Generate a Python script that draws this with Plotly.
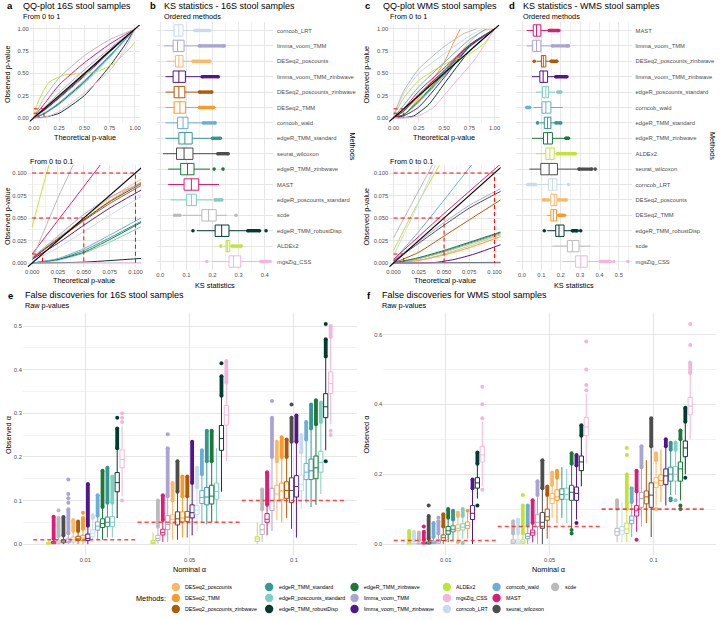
import plotly.graph_objects as go

W, H = 720, 620
FONT = "Liberation Sans, Arial, sans-serif"
TICK = "#4D4D4D"
GRID = "#E6E6E6"
GRID_MINOR = "#F2F2F2"

# ---------------- methods & colours ----------------
methods = ["DESeq2_poscounts", "DESeq2_TMM", "DESeq2_poscounts_zinbwave",
           "edgeR_TMM_standard", "edgeR_poscounts_standard", "edgeR_TMM_robustDisp",
           "edgeR_TMM_zinbwave", "limma_voom_TMM", "limma_voom_TMM_zinbwave",
           "ALDEx2", "mgsZig_CSS", "corncob_LRT",
           "corncob_wald", "MAST", "seurat_wilcoxon", "scde"]
method_colors = ["#FDB863", "#FB9A29", "#B35806",
                 "#35978F", "#80CDC1", "#003C30",
                 "#1B7837", "#A9A4D2", "#50168A",
                 "#C2E33A", "#F1B6DA", "#C6DBEF",
                 "#6BAED6", "#DD1C77", "#4D4D4D", "#BABABA"]
COL = dict(zip(methods, method_colors))

alphas = [0.01, 0.05, 0.1]
alpha_labels = ["0.01", "0.05", "0.1"]

# ---------------- QQ curves (x list, y list) ----------------
X6 = [0, 0.1, 0.25, 0.5, 0.75, 1]
qq16_full = {
    "DESeq2_poscounts": (X6, [0.005, 0.09, 0.24, 0.5, 0.76, 1]),
    "DESeq2_TMM": (X6, [0.005, 0.088, 0.235, 0.49, 0.755, 1]),
    "DESeq2_poscounts_zinbwave": (X6, [0.005, 0.085, 0.23, 0.485, 0.75, 1]),
    "edgeR_TMM_standard": (X6, [0, 0.045, 0.16, 0.4, 0.69, 1]),
    "edgeR_poscounts_standard": (X6, [0, 0.04, 0.15, 0.39, 0.68, 1]),
    "edgeR_TMM_robustDisp": ([0, 0.1, 0.25, 0.5, 0.75, 0.9, 1], [0, 0.005, 0.05, 0.25, 0.58, 0.82, 1]),
    "edgeR_TMM_zinbwave": (X6, [0, 0.045, 0.16, 0.41, 0.7, 1]),
    "limma_voom_TMM": (X6, [0.005, 0.11, 0.28, 0.54, 0.78, 1]),
    "limma_voom_TMM_zinbwave": (X6, [0.004, 0.08, 0.22, 0.47, 0.74, 1]),
    "ALDEx2": ([0, 0.05, 0.15, 0.3, 0.5, 0.65, 0.8, 0.92, 1], [0.04, 0.2, 0.4, 0.48, 0.5, 0.53, 0.62, 0.75, 0.85]),
    "mgsZig_CSS": ([0, 0.1, 0.25, 0.5, 0.75, 0.9, 1], [0, 0.001, 0.07, 0.28, 0.53, 0.77, 1]),
    "corncob_LRT": (X6, [0.002, 0.07, 0.21, 0.46, 0.73, 1]),
    "corncob_wald": (X6, [0, 0.05, 0.17, 0.42, 0.7, 1]),
    "MAST": (X6, [0.01, 0.15, 0.37, 0.62, 0.83, 1]),
    "seurat_wilcoxon": (X6, [0.005, 0.087, 0.23, 0.49, 0.76, 1]),
    "scde": (X6, [0.004, 0.22, 0.45, 0.7, 0.88, 1]),
}
X5 = [0, 0.025, 0.05, 0.075, 0.11]
qq16_zoom = {
    "DESeq2_poscounts": (X5, [0.006, 0.028, 0.05, 0.072, 0.096]),
    "DESeq2_TMM": (X5, [0.005, 0.026, 0.048, 0.069, 0.093]),
    "DESeq2_poscounts_zinbwave": (X5, [0.005, 0.026, 0.047, 0.066, 0.089]),
    "edgeR_TMM_standard": (X5, [0, 0.004, 0.014, 0.028, 0.049]),
    "edgeR_poscounts_standard": (X5, [0, 0.003, 0.011, 0.023, 0.043]),
    "edgeR_TMM_robustDisp": ([0, 0.05, 0.11], [0, 0.001, 0.0055]),
    "edgeR_TMM_zinbwave": (X5, [0, 0.004, 0.012, 0.026, 0.048]),
    "limma_voom_TMM": (X5, [0.006, 0.03, 0.054, 0.073, 0.091]),
    "limma_voom_TMM_zinbwave": (X5, [0.004, 0.022, 0.042, 0.061, 0.084]),
    "ALDEx2": ([0, 0.008, 0.017], [0.04, 0.075, 0.112]),
    "mgsZig_CSS": ([0, 0.11], [0, 0.0005]),
    "corncob_LRT": (X5, [0.002, 0.017, 0.035, 0.053, 0.077]),
    "corncob_wald": (X5, [0, 0.005, 0.016, 0.031, 0.053]),
    "MAST": ([0, 0.02, 0.04, 0.068], [0.01, 0.04, 0.07, 0.112]),
    "seurat_wilcoxon": (X5, [0.005, 0.027, 0.048, 0.068, 0.091]),
    "scde": ([0, 0.013, 0.026, 0.041], [0.004, 0.04, 0.075, 0.112]),
}
qqwms_full = {
    "DESeq2_poscounts": ([0, 0.1, 0.25, 0.5, 0.75, 0.88, 1], [0, 0.03, 0.2, 0.52, 0.85, 0.98, 1]),
    "DESeq2_TMM": ([0, 0.1, 0.25, 0.4, 0.5, 0.6, 0.66], [0, 0.028, 0.22, 0.45, 0.62, 0.86, 1]),
    "DESeq2_poscounts_zinbwave": (X6, [0, 0.07, 0.24, 0.52, 0.8, 1]),
    "edgeR_TMM_standard": (X6, [0, 0.033, 0.18, 0.48, 0.8, 1]),
    "edgeR_poscounts_standard": (X6, [0, 0.032, 0.17, 0.47, 0.79, 1]),
    "edgeR_TMM_robustDisp": ([0, 0.1, 0.2, 0.35, 0.5, 0.75, 1], [0, 0.0, 0.02, 0.15, 0.38, 0.75, 1]),
    "edgeR_TMM_zinbwave": (X6, [0, 0.034, 0.19, 0.5, 0.81, 1]),
    "limma_voom_TMM": (X6, [0.003, 0.08, 0.27, 0.53, 0.8, 1]),
    "limma_voom_TMM_zinbwave": (X6, [0, 0.02, 0.12, 0.45, 0.8, 1]),
    "ALDEx2": ([0, 0.1, 0.25, 0.5, 0.75, 0.9, 1], [0.013, 0.22, 0.42, 0.6, 0.72, 0.84, 1]),
    "mgsZig_CSS": ([0, 0.15, 0.25, 0.4, 0.5, 0.65, 0.8, 0.9, 1], [0, 0, 0.02, 0.12, 0.25, 0.45, 0.65, 0.82, 1]),
    "corncob_LRT": ([0, 0.1, 0.25, 0.5, 0.75, 0.88], [0.008, 0.27, 0.5, 0.72, 0.92, 1]),
    "corncob_wald": ([0, 0.1, 0.25, 0.5, 0.75, 0.92], [0.003, 0.14, 0.35, 0.62, 0.88, 1]),
    "MAST": (X6, [0.004, 0.1, 0.3, 0.56, 0.82, 1]),
    "seurat_wilcoxon": (X6, [0.002, 0.075, 0.26, 0.53, 0.82, 1]),
    "scde": ([0, 0.1, 0.25, 0.5, 0.7, 0.82], [0.028, 0.3, 0.55, 0.8, 0.95, 1]),
}
qqwms_zoom = {
    "DESeq2_poscounts": (X5, [0, 0.003, 0.01, 0.019, 0.033]),
    "DESeq2_TMM": (X5, [0, 0.003, 0.009, 0.017, 0.031]),
    "DESeq2_poscounts_zinbwave": (X5, [0, 0.012, 0.03, 0.048, 0.073]),
    "edgeR_TMM_standard": (X5, [0, 0.005, 0.013, 0.022, 0.035]),
    "edgeR_poscounts_standard": (X5, [0, 0.005, 0.012, 0.021, 0.034]),
    "edgeR_TMM_robustDisp": ([0, 0.11], [0, 0.0008]),
    "edgeR_TMM_zinbwave": (X5, [0, 0.006, 0.014, 0.023, 0.036]),
    "limma_voom_TMM": (X5, [0.003, 0.024, 0.045, 0.064, 0.085]),
    "limma_voom_TMM_zinbwave": ([0, 0.04, 0.06, 0.08, 0.11], [0, 0.0005, 0.004, 0.01, 0.022]),
    "ALDEx2": ([0, 0.02, 0.046], [0.014, 0.058, 0.11]),
    "mgsZig_CSS": ([0, 0.11], [0, 0.0]),
    "corncob_LRT": ([0, 0.02, 0.042], [0.008, 0.055, 0.11]),
    "corncob_wald": ([0, 0.025, 0.05, 0.078], [0.003, 0.035, 0.07, 0.11]),
    "MAST": ([0, 0.05, 0.106], [0.004, 0.055, 0.11]),
    "seurat_wilcoxon": (X5, [0.002, 0.022, 0.042, 0.061, 0.082]),
    "scde": ([0, 0.02, 0.039], [0.028, 0.07, 0.11]),
}

# ---------------- KS statistics (panel b, 16S) ----------------
ks16_order = ["corncob_LRT", "limma_voom_TMM", "DESeq2_poscounts", "limma_voom_TMM_zinbwave",
              "DESeq2_poscounts_zinbwave", "DESeq2_TMM", "corncob_wald", "edgeR_TMM_standard",
              "seurat_wilcoxon", "edgeR_TMM_zinbwave", "MAST", "edgeR_poscounts_standard",
              "scde", "edgeR_TMM_robustDisp", "ALDEx2", "mgsZig_CSS"]
ks16_lo = [0.02, 0.015, 0.025, 0.02, 0.02, 0.02, 0.02, 0.02, 0.01, 0.03, 0.03, 0.04, 0.085, 0.14, 0.245, 0.2]
ks16_q1 = [0.053, 0.049, 0.058, 0.049, 0.053, 0.053, 0.066, 0.071, 0.062, 0.078, 0.091, 0.1, 0.159, 0.21, 0.252, 0.263]
ks16_med = [0.071, 0.066, 0.071, 0.071, 0.071, 0.075, 0.087, 0.094, 0.091, 0.104, 0.119, 0.119, 0.185, 0.235, 0.258, 0.28]
ks16_q3 = [0.087, 0.091, 0.087, 0.096, 0.094, 0.096, 0.106, 0.122, 0.125, 0.129, 0.147, 0.138, 0.214, 0.263, 0.266, 0.308]
ks16_hi = [0.132, 0.15, 0.125, 0.16, 0.15, 0.15, 0.165, 0.195, 0.22, 0.19, 0.225, 0.2, 0.255, 0.335, 0.275, 0.38]
ks16_out = [[0.132, 0.189], [0.15, 0.245], [0.125, 0.19], [0.16, 0.222], [0.15, 0.197], [0.15, 0.205],
            [0.165, 0.21], [0.2, 0.23], [0.22, 0.26], None, None, [0.21, 0.235], None, [0.335, 0.38],
            [0.275, 0.31], [0.385, 0.41]]
ks16_pts = [[], [], [], [], [], [], [], [], [], [0.206, 0.24], [], [], [0.055, 0.065, 0.075, 0.29],
            [0.125, 0.405], [0.232], [0.178, 0.42]]

# ---------------- KS statistics (panel d, WMS) ----------------
ksw_order = ["MAST", "limma_voom_TMM", "DESeq2_poscounts_zinbwave", "limma_voom_TMM_zinbwave",
             "edgeR_poscounts_standard", "corncob_wald", "edgeR_TMM_standard", "edgeR_TMM_zinbwave",
             "ALDEx2", "seurat_wilcoxon", "corncob_LRT", "DESeq2_poscounts", "DESeq2_TMM",
             "edgeR_TMM_robustDisp", "scde", "mgsZig_CSS"]
ksw_lo = [0.024, 0.024, 0.075, 0.051, 0.072, 0.06, 0.09, 0.051, 0.072, 0.038, 0.08, 0.115, 0.128, 0.13, 0.157, 0.208]
ksw_q1 = [0.058, 0.055, 0.1, 0.092, 0.106, 0.103, 0.115, 0.111, 0.123, 0.097, 0.137, 0.149, 0.149, 0.174, 0.234, 0.277]
ksw_med = [0.075, 0.075, 0.11, 0.109, 0.123, 0.123, 0.132, 0.132, 0.144, 0.14, 0.157, 0.166, 0.162, 0.191, 0.26, 0.303]
ksw_q3 = [0.097, 0.097, 0.123, 0.132, 0.137, 0.149, 0.149, 0.157, 0.166, 0.183, 0.18, 0.18, 0.178, 0.217, 0.294, 0.337]
ksw_hi = [0.14, 0.155, 0.15, 0.17, 0.17, 0.21, 0.17, 0.22, 0.18, 0.294, 0.21, 0.19, 0.19, 0.26, 0.354, 0.4]
ksw_out = [[0.14, 0.19], [0.157, 0.234], [0.15, 0.18], [0.174, 0.232], [0.185, 0.2], [0.025, 0.04],
           [0.175, 0.2], [0.226, 0.24], [0.183, 0.275], [0.294, 0.36], [0.03, 0.07], [0.19, 0.228],
           [0.19, 0.21], [0.26, 0.285], None, [0.405, 0.456]]
ksw_pts = [[], [0.24], [0.063], [], [], [], [0.08], [], [], [0.378], [0.24], [0.11, 0.12, 0.135],
           [0.22], [0.115, 0.303], [], [0.474, 0.547]]

# ---------------- False discoveries, 16S (panel e) ----------------
# stats per box: [lower whisker, q1, median, q3, upper whisker]; order = left-to-right in group
e_order_1 = ["ALDEx2", "MAST", "scde", "seurat_wilcoxon", "limma_voom_TMM", "DESeq2_poscounts",
             "DESeq2_poscounts_zinbwave", "DESeq2_TMM", "limma_voom_TMM_zinbwave", "corncob_LRT",
             "corncob_wald", "edgeR_TMM_zinbwave", "edgeR_TMM_standard", "edgeR_poscounts_standard",
             "edgeR_TMM_robustDisp", "mgsZig_CSS"]
e_stats_1 = [[0, 0, 0.001, 0.004, 0.008], [0, 0.001, 0.003, 0.006, 0.012], [0, 0.002, 0.005, 0.009, 0.018],
             [0, 0.003, 0.007, 0.01, 0.02], [0, 0.003, 0.006, 0.012, 0.025], [0, 0.005, 0.01, 0.016, 0.03],
             [0, 0.008, 0.012, 0.018, 0.03], [0, 0.008, 0.014, 0.02, 0.035], [0, 0.008, 0.013, 0.023, 0.042],
             [0.005, 0.018, 0.025, 0.033, 0.06], [0.01, 0.032, 0.041, 0.051, 0.065],
             [0.01, 0.038, 0.047, 0.058, 0.085], [0.015, 0.04, 0.05, 0.062, 0.095],
             [0.015, 0.04, 0.05, 0.063, 0.095], [0.06, 0.12, 0.141, 0.164, 0.22],
             [0.11, 0.175, 0.194, 0.216, 0.27]]
e_out_1 = [None, [0.012, 0.063], [0.018, 0.06], [0.02, 0.062], [0.025, 0.08], [0.03, 0.055], [0.03, 0.052],
           [0.035, 0.06], [0.042, 0.138], [0.06, 0.066], [0.065, 0.112], [0.085, 0.168], [0.095, 0.175],
           [0.095, 0.155], [0.22, 0.265], None]
e_pts_1 = [[], [], [0.077], [], [0.095, 0.105, 0.115, 0.148], [], [], [0.072], [], [], [], [], [], [],
           [0.29], [0.1, 0.28, 0.29, 0.3]]

e_order_2 = ["ALDEx2", "scde", "MAST", "limma_voom_TMM", "DESeq2_poscounts", "seurat_wilcoxon",
             "DESeq2_TMM", "DESeq2_poscounts_zinbwave", "limma_voom_TMM_zinbwave", "corncob_LRT",
             "corncob_wald", "edgeR_TMM_standard", "edgeR_TMM_zinbwave", "edgeR_poscounts_standard",
             "edgeR_TMM_robustDisp", "mgsZig_CSS"]
e_stats_2 = [[0, 0.001, 0.004, 0.008, 0.027], [0, 0.008, 0.013, 0.02, 0.04], [0.005, 0.021, 0.027, 0.034, 0.055],
             [0.005, 0.033, 0.045, 0.065, 0.11], [0.01, 0.047, 0.057, 0.067, 0.1], [0.01, 0.044, 0.058, 0.074, 0.12],
             [0.015, 0.051, 0.06, 0.074, 0.11], [0.015, 0.052, 0.062, 0.075, 0.11], [0.02, 0.06, 0.072, 0.09, 0.14],
             [0.03, 0.068, 0.078, 0.088, 0.13], [0.05, 0.093, 0.107, 0.123, 0.16], [0.045, 0.09, 0.108, 0.13, 0.19],
             [0.05, 0.092, 0.11, 0.135, 0.19], [0.05, 0.103, 0.121, 0.14, 0.22], [0.12, 0.215, 0.242, 0.272, 0.34],
             [0.19, 0.273, 0.296, 0.318, 0.37]]
e_out_2 = [None, [0.04, 0.1], [0.055, 0.112], [0.11, 0.22], [0.1, 0.14], [0.12, 0.19], [0.11, 0.155],
           [0.11, 0.155], [0.14, 0.235], [0.13, 0.175], [0.16, 0.215], [0.19, 0.26], [0.19, 0.26], None,
           [0.34, 0.385], [0.37, 0.42]]
e_pts_2 = [[], [], [], [0.252], [], [], [], [], [], [], [], [], [], [], [0.415], []]

e_order_3 = ["ALDEx2", "scde", "MAST", "limma_voom_TMM", "DESeq2_poscounts", "DESeq2_TMM",
             "DESeq2_poscounts_zinbwave", "seurat_wilcoxon", "limma_voom_TMM_zinbwave", "corncob_LRT",
             "corncob_wald", "edgeR_TMM_standard", "edgeR_TMM_zinbwave", "edgeR_poscounts_standard",
             "edgeR_TMM_robustDisp", "mgsZig_CSS"]
e_stats_3 = [[0, 0.006, 0.012, 0.017, 0.05], [0.005, 0.022, 0.033, 0.045, 0.08], [0.02, 0.05, 0.057, 0.07, 0.09],
             [0.03, 0.077, 0.1, 0.128, 0.2], [0.055, 0.1, 0.115, 0.135, 0.19], [0.05, 0.102, 0.122, 0.14, 0.2],
             [0.06, 0.105, 0.123, 0.143, 0.2], [0.035, 0.095, 0.123, 0.152, 0.235], [0.015, 0.108, 0.132, 0.157, 0.235],
             [0.08, 0.122, 0.137, 0.158, 0.21], [0.095, 0.148, 0.165, 0.185, 0.24], [0.085, 0.148, 0.168, 0.195, 0.265],
             [0.09, 0.15, 0.175, 0.202, 0.275], [0.115, 0.165, 0.187, 0.213, 0.28], [0.215, 0.29, 0.315, 0.345, 0.43],
             [0.275, 0.345, 0.368, 0.395, 0.47]]
e_out_3 = [None, [0.08, 0.125], [0.09, 0.165], [0.2, 0.29], [0.19, 0.235], [0.2, 0.245], [0.2, 0.24],
           [0.235, 0.29], [0.235, 0.295], [0.21, 0.25], [0.24, 0.28], [0.265, 0.32], [0.275, 0.33],
           [0.28, 0.325], [0.43, 0.47], [0.475, 0.5]]
e_pts_3 = [[], [], [], [0.328], [], [], [], [0.32], [], [], [], [], [], [], [0.19, 0.505], [0.25, 0.26]]

# ---------------- False discoveries, WMS (panel f) ----------------
f_order_1 = ["ALDEx2", "corncob_LRT", "scde", "MAST", "seurat_wilcoxon", "corncob_wald", "limma_voom_TMM",
             "DESeq2_poscounts_zinbwave", "edgeR_TMM_zinbwave", "edgeR_TMM_standard", "DESeq2_poscounts",
             "edgeR_poscounts_standard", "DESeq2_TMM", "limma_voom_TMM_zinbwave", "edgeR_TMM_robustDisp",
             "mgsZig_CSS"]
f_stats_1 = [[0, 0, 0.001, 0.004, 0.01], [0, 0, 0.001, 0.003, 0.01], [0, 0, 0.001, 0.003, 0.01],
             [0, 0, 0.002, 0.005, 0.012], [0, 0, 0.002, 0.006, 0.015], [0, 0.001, 0.004, 0.008, 0.02],
             [0, 0.002, 0.006, 0.012, 0.03], [0, 0.01, 0.018, 0.026, 0.05], [0.005, 0.028, 0.038, 0.05, 0.075],
             [0.01, 0.035, 0.042, 0.052, 0.07], [0.01, 0.038, 0.045, 0.055, 0.08], [0.015, 0.04, 0.048, 0.058, 0.08],
             [0.015, 0.045, 0.053, 0.063, 0.09], [0, 0.07, 0.088, 0.11, 0.16], [0.13, 0.16, 0.175, 0.19, 0.23],
             [0.165, 0.235, 0.255, 0.28, 0.35]]
f_out_1 = [[0.01, 0.037], [0.01, 0.035], [0.01, 0.033], [0.012, 0.035], [0.015, 0.08], [0.02, 0.06],
           [0.03, 0.065], [0.05, 0.085], [0.075, 0.1], [0.07, 0.095], [0.08, 0.09], [0.08, 0.1], None,
           [0.16, 0.185], [0.23, 0.262], None]
f_pts_1 = [[], [], [], [0.05], [0.11], [], [0.075], [], [], [], [0.005], [0.003], [0.095], [], [0.11],
           [0.155, 0.36, 0.4, 0.45]]

f_order_2 = ["scde", "corncob_LRT", "ALDEx2", "corncob_wald", "MAST", "limma_voom_TMM", "seurat_wilcoxon",
             "DESeq2_poscounts_zinbwave", "DESeq2_poscounts", "DESeq2_TMM", "edgeR_TMM_standard",
             "edgeR_poscounts_standard", "edgeR_TMM_zinbwave", "limma_voom_TMM_zinbwave",
             "edgeR_TMM_robustDisp", "mgsZig_CSS"]
f_stats_2 = [[0, 0.002, 0.006, 0.012, 0.03], [0, 0.002, 0.006, 0.012, 0.03], [0, 0.002, 0.006, 0.012, 0.03],
             [0, 0.015, 0.022, 0.03, 0.055], [0.005, 0.025, 0.032, 0.04, 0.06], [0, 0.05, 0.062, 0.085, 0.14],
             [0, 0.045, 0.062, 0.09, 0.16], [0.015, 0.068, 0.078, 0.1, 0.14], [0.075, 0.116, 0.13, 0.145, 0.17],
             [0.06, 0.125, 0.135, 0.155, 0.19], [0.075, 0.128, 0.142, 0.158, 0.22], [0.06, 0.128, 0.142, 0.16, 0.215],
             [0.045, 0.125, 0.148, 0.168, 0.23], [0.07, 0.125, 0.145, 0.163, 0.225], [0.165, 0.21, 0.235, 0.252, 0.31],
             [0.23, 0.31, 0.335, 0.362, 0.43]]
f_out_2 = [[0.03, 0.065], [0.03, 0.07], [0.03, 0.11], [0.055, 0.11], [0.06, 0.125], [0.14, 0.18], [0.16, 0.24],
           [0.14, 0.165], [0.17, 0.205], [0.19, 0.21], None, None, [0.23, 0.26], [0.225, 0.255], [0.31, 0.34], None]
f_pts_2 = [[], [], [0.14], [], [], [], [], [], [], [], [], [], [0.03, 0.04], [0.06], [],
           [0.44, 0.455, 0.5, 0.58]]

f_order_3 = ["scde", "corncob_LRT", "ALDEx2", "corncob_wald", "MAST", "limma_voom_TMM",
             "DESeq2_poscounts_zinbwave", "seurat_wilcoxon", "DESeq2_poscounts", "DESeq2_TMM",
             "limma_voom_TMM_zinbwave", "edgeR_TMM_standard", "edgeR_poscounts_standard",
             "edgeR_TMM_zinbwave", "edgeR_TMM_robustDisp", "mgsZig_CSS"]
f_stats_3 = [[0.005, 0.025, 0.035, 0.045, 0.1], [0.005, 0.028, 0.038, 0.05, 0.12], [0.005, 0.03, 0.043, 0.06, 0.1],
             [0.02, 0.058, 0.068, 0.08, 0.12], [0.035, 0.08, 0.095, 0.11, 0.15], [0.05, 0.105, 0.13, 0.148, 0.22],
             [0.06, 0.115, 0.135, 0.152, 0.24], [0.02, 0.105, 0.14, 0.175, 0.28], [0.11, 0.162, 0.175, 0.19, 0.24],
             [0.12, 0.168, 0.182, 0.198, 0.27], [0.11, 0.17, 0.195, 0.215, 0.28], [0.14, 0.18, 0.2, 0.22, 0.27],
             [0.14, 0.18, 0.2, 0.222, 0.27], [0.125, 0.18, 0.215, 0.235, 0.3], [0.2, 0.25, 0.275, 0.295, 0.35],
             [0.3, 0.37, 0.395, 0.42, 0.49]]
f_out_3 = [[0.1, 0.125], None, [0.1, 0.2], [0.12, 0.16], [0.15, 0.21], [0.22, 0.28], None, [0.28, 0.36],
           [0.24, 0.26], None, [0.28, 0.3], [0.27, 0.29], [0.27, 0.29], [0.3, 0.325], [0.35, 0.39], [0.49, 0.52]]
f_pts_3 = [[], [], [0.255, 0.275], [], [0.012], [], [], [], [0.1], [], [], [0.125, 0.13], [0.125], [0.1, 0.11],
           [0.19], [0.57, 0.63]]

# ======================= building the figure =======================
fig = go.Figure()
layout = {}


def ref(n, k):
    return k if n == 1 else f"{k}{n}"


def key(n, k):
    return f"{k}axis" if n == 1 else f"{k}axis{n}"


base = dict(showline=False, zeroline=False, ticks="", showgrid=True, gridcolor=GRID, gridwidth=0.8,
            tickfont=dict(family=FONT, size=5.8, color=TICK), fixedrange=True, tickmode="array")


def set_axes(n, xpx, ypx, xr, yr, xo, yo):
    layout[key(n, "x")] = {**base, "domain": [xpx[0] / W, xpx[1] / W], "range": xr, "anchor": ref(n, "y"), **xo}
    layout[key(n, "y")] = {**base, "domain": [1 - ypx[1] / H, 1 - ypx[0] / H], "range": yr,
                           "anchor": ref(n, "x"), **yo}


def minor(vals):
    return dict(tickvals=vals, showgrid=True, gridcolor=GRID_MINOR, gridwidth=0.6, ticks="")


full_t = [0, 0.25, 0.5, 0.75, 1]
full_l = ["0.00", "0.25", "0.50", "0.75", "1.00"]
full_m = [0.125, 0.375, 0.625, 0.875]
zoom_t = [0, 0.025, 0.05, 0.075, 0.1]
zoom_l = ["0.000", "0.025", "0.050", "0.075", "0.100"]
zoom_m = [0.0125, 0.0375, 0.0625, 0.0875]

qx_full = dict(tickvals=full_t, ticktext=full_l, minor=minor(full_m))
qx_zoom = dict(tickvals=zoom_t, ticktext=zoom_l, minor=minor(zoom_m))

set_axes(1, (27, 138), (25, 123), [-0.04, 1.05], [-0.06, 1.045], qx_full, qx_full)
set_axes(2, (25, 139), (165, 267), [-0.0042, 0.1054], [-0.0044, 0.1089], qx_zoom, qx_zoom)
set_axes(4, (389, 500), (25, 123), [-0.042, 1.049], [-0.06, 1.045], qx_full, qx_full)
set_axes(5, (389, 501), (165, 267), [-0.0042, 0.1059], [-0.0044, 0.1089], qx_zoom, qx_zoom)

ks_rows = list(range(16))
set_axes(3, (155, 272), (22, 270), [-0.013, 0.432], [15.55, -0.55],
         dict(tickvals=[0, 0.1, 0.2, 0.3, 0.4], ticktext=["0.0", "0.1", "0.2", "0.3", "0.4"],
              minor=minor([0.05, 0.15, 0.25, 0.35])),
         dict(tickvals=ks_rows, ticktext=ks16_order, side="right", ticklabelstandoff=3))
set_axes(6, (517, 633), (22, 270), [-0.029, 0.566], [15.55, -0.55],
         dict(tickvals=[0, 0.1, 0.2, 0.3, 0.4, 0.5], ticktext=["0.0", "0.1", "0.2", "0.3", "0.4", "0.5"],
              minor=minor([0.05, 0.15, 0.25, 0.35, 0.45, 0.55])),
         dict(tickvals=ks_rows, ticktext=ksw_order, side="right", ticklabelstandoff=3))

set_axes(7, (20, 356), (313, 555), [0.4, 3.6], [-0.025, 0.53],
         dict(tickvals=[1, 2, 3], ticktext=alpha_labels),
         dict(tickvals=[0, 0.1, 0.2, 0.3, 0.4, 0.5], ticktext=["0.0", "0.1", "0.2", "0.3", "0.4", "0.5"],
              minor=minor([0.05, 0.15, 0.25, 0.35, 0.45])))
set_axes(8, (383, 718), (313, 555), [0.4, 3.6], [-0.0315, 0.6615],
         dict(tickvals=[1, 2, 3], ticktext=alpha_labels),
         dict(tickvals=[0, 0.2, 0.4, 0.6], ticktext=["0.0", "0.2", "0.4", "0.6"],
              minor=minor([0.1, 0.3, 0.5])))

RED_DASH = "4px,3px"


def qq_panel(n, data, diag):
    for m in methods:
        xs, ys = data[m]
        fig.add_trace(go.Scatter(x=xs, y=ys, mode="lines",
                                 line=dict(color=COL[m], width=1, shape="spline", smoothing=0.55),
                                 xaxis=ref(n, "x"), yaxis=ref(n, "y"), hoverinfo="skip"))
    fig.add_trace(go.Scatter(x=diag, y=diag, mode="lines", line=dict(color="black", width=1.1),
                             xaxis=ref(n, "x"), yaxis=ref(n, "y"), hoverinfo="skip"))
    rx, ry = [], []
    for a in alphas:
        rx += [0, a, a, None]
        ry += [a, a, 0, None]
    fig.add_trace(go.Scatter(x=rx, y=ry, mode="lines", line=dict(color="#FF0000", width=1, dash=RED_DASH),
                             xaxis=ref(n, "x"), yaxis=ref(n, "y"), hoverinfo="skip"))


qq_panel(1, qq16_full, [-0.2, 1.2])
qq_panel(2, qq16_zoom, [-0.02, 0.12])
qq_panel(4, qqwms_full, [-0.2, 1.2])
qq_panel(5, qqwms_zoom, [-0.02, 0.12])


def ks_panel(n, order, lo, q1, med, q3, hi, outs, pts):
    for i, m in enumerate(order):
        c = COL[m]
        fig.add_trace(go.Box(y=[i], lowerfence=[lo[i]], q1=[q1[i]], median=[med[i]], q3=[q3[i]],
                             upperfence=[hi[i]], orientation="h", width=0.74, whiskerwidth=0,
                             line=dict(color=c, width=1), fillcolor="white", boxpoints=False,
                             xaxis=ref(n, "x"), yaxis=ref(n, "y"), hoverinfo="skip"))
        if outs[i]:
            fig.add_trace(go.Scatter(x=outs[i], y=[i, i], mode="lines+markers",
                                     line=dict(color=c, width=3.4), marker=dict(color=c, size=3.6),
                                     xaxis=ref(n, "x"), yaxis=ref(n, "y"), hoverinfo="skip"))
        if pts[i]:
            fig.add_trace(go.Scatter(x=pts[i], y=[i] * len(pts[i]), mode="markers",
                                     marker=dict(color=c, size=3.6),
                                     xaxis=ref(n, "x"), yaxis=ref(n, "y"), hoverinfo="skip"))


ks_panel(3, ks16_order, ks16_lo, ks16_q1, ks16_med, ks16_q3, ks16_hi, ks16_out, ks16_pts)
ks_panel(6, ksw_order, ksw_lo, ksw_q1, ksw_med, ksw_q3, ksw_hi, ksw_out, ksw_pts)

STEP = 0.75 / 16


def fd_panel(n, orders, stats, outs, pts):
    rx, ry = [], []
    for g, a in enumerate(alphas):
        rx += [g + 0.5, g + 1.5, None]
        ry += [a, a, None]
    for m in methods:
        xs, lo, q1, md, q3, hi = [], [], [], [], [], []
        for g in range(3):
            r = orders[g].index(m)
            s = stats[g][r]
            xs.append(g + 1 + (r - 7.5) * STEP)
            lo.append(s[0]); q1.append(s[1]); md.append(s[2]); q3.append(s[3]); hi.append(s[4])
        c = COL[m]
        fig.add_trace(go.Box(x=xs, lowerfence=lo, q1=q1, median=md, q3=q3, upperfence=hi,
                             width=STEP * 0.86, whiskerwidth=0, line=dict(color=c, width=1),
                             fillcolor="white", boxpoints=False,
                             xaxis=ref(n, "x"), yaxis=ref(n, "y"), hoverinfo="skip"))
        ox, oy, px_, py_ = [], [], [], []
        for g in range(3):
            r = orders[g].index(m)
            xpos = g + 1 + (r - 7.5) * STEP
            if outs[g][r]:
                ox += [xpos, xpos, None]
                oy += [outs[g][r][0], outs[g][r][1], None]
            for p in pts[g][r]:
                px_.append(xpos)
                py_.append(p)
        if ox:
            fig.add_trace(go.Scatter(x=ox, y=oy, mode="lines+markers", line=dict(color=c, width=3.8),
                                     marker=dict(color=c, size=4), xaxis=ref(n, "x"), yaxis=ref(n, "y"),
                                     hoverinfo="skip"))
        if px_:
            fig.add_trace(go.Scatter(x=px_, y=py_, mode="markers", marker=dict(color=c, size=4),
                                     xaxis=ref(n, "x"), yaxis=ref(n, "y"), hoverinfo="skip"))
    fig.add_trace(go.Scatter(x=rx, y=ry, mode="lines",
                             line=dict(color="rgba(255,30,30,0.8)", width=1.6, dash=RED_DASH),
                             xaxis=ref(n, "x"), yaxis=ref(n, "y"), hoverinfo="skip"))


fd_panel(7, [e_order_1, e_order_2, e_order_3], [e_stats_1, e_stats_2, e_stats_3],
         [e_out_1, e_out_2, e_out_3], [e_pts_1, e_pts_2, e_pts_3])
fd_panel(8, [f_order_1, f_order_2, f_order_3], [f_stats_1, f_stats_2, f_stats_3],
         [f_out_1, f_out_2, f_out_3], [f_pts_1, f_pts_2, f_pts_3])

# ---------------- text ----------------
annotations = []


def ann(text, x, y, size, bold=False, xa="left", ya="middle", angle=0, color="black"):
    t = f"<b>{text}</b>" if bold else text
    annotations.append(dict(text=t, x=x / W, y=1 - y / H, xref="paper", yref="paper", showarrow=False,
                            xanchor=xa, yanchor=ya, textangle=angle,
                            font=dict(family=FONT, size=size, color=color)))


TS, SS, AS = 9, 7.3, 7.3
for letter, lx, tx, title, sub_x, sub in [("a", 2, 18, "QQ-plot 16S stool samples", 18, "From 0 to 1"),
                                         ("b", 146, 160, "KS statistics - 16S stool samples", 160, "Ordered methods"),
                                         ("c", 363, 381, "QQ-plot WMS stool samples", 388, "From 0 to 1"),
                                         ("d", 508, 522, "KS statistics - WMS stool samples", 522, "Ordered methods")]:
    ann(letter, lx, 6, 9.5, bold=True)
    ann(title, tx, 6, TS)
    ann(sub, sub_x, 16.5, SS)
ann("From 0 to 0.1", 25, 161.5, SS)
ann("From 0 to 0.1", 388, 161.5, SS)
for x0 in (0, 362):
    ann("Observed p-value", 4 + x0, 74, AS, xa="center", angle=-90)
    ann("Observed p-value", 4 + x0, 216, AS, xa="center", angle=-90)
ann("Theoretical p-value", 82.5, 137, AS, xa="center")
ann("Theoretical p-value", 82, 280.5, AS, xa="center")
ann("Theoretical p-value", 444.5, 137, AS, xa="center")
ann("Theoretical p-value", 445, 280.5, AS, xa="center")
ann("KS statistics", 213.5, 285, AS, xa="center")
ann("KS statistics", 575, 285, AS, xa="center")
ann("Methods", 352, 146, AS, xa="center", angle=90)
ann("Methods", 715, 146, AS, xa="center", angle=90)

ann("e", 3, 295, 9.5, bold=True)
ann("False discoveries for 16S stool samples", 20, 295, TS)
ann("Raw p-values", 20, 305.5, SS)
ann("f", 365, 295, 9.5, bold=True)
ann("False discoveries for WMS stool samples", 380, 295, TS)
ann("Raw p-values", 380, 305.5, SS)
ann("Observed α", 5, 434, AS, xa="center", angle=-90)
ann("Observed α", 366, 434, AS, xa="center", angle=-90)
ann("Nominal α", 188, 569, AS, xa="center")
ann("Nominal α", 550, 569, AS, xa="center")

# ---------------- legend (3 rows, column-wise) ----------------
legend_col_x = [174, 268, 354, 447, 497, 556]
legend_row_y = [587, 598, 609]
shapes = []
R = 4.2
for i, m in enumerate(methods):
    cx = legend_col_x[i // 3]
    cy = legend_row_y[i % 3]
    shapes.append(dict(type="circle", xref="paper", yref="paper", x0=(cx - R) / W, x1=(cx + R) / W,
                       y0=1 - (cy + R) / H, y1=1 - (cy - R) / H, fillcolor=COL[m], line=dict(width=0)))
    ann(m, cx + 7.5, cy, 5.3)
ann("Methods:", 166, 598, AS, xa="right")

fig.update_layout(width=W, height=H, margin=dict(l=0, r=0, t=0, b=0), paper_bgcolor="white",
                  plot_bgcolor="white", showlegend=False, annotations=annotations, shapes=shapes,
                  font=dict(family=FONT), **layout)

fig.write_html("out.html", config={"displayModeBar": False},
               post_script="document.body.style.margin='0px';document.body.style.overflow='hidden';")
